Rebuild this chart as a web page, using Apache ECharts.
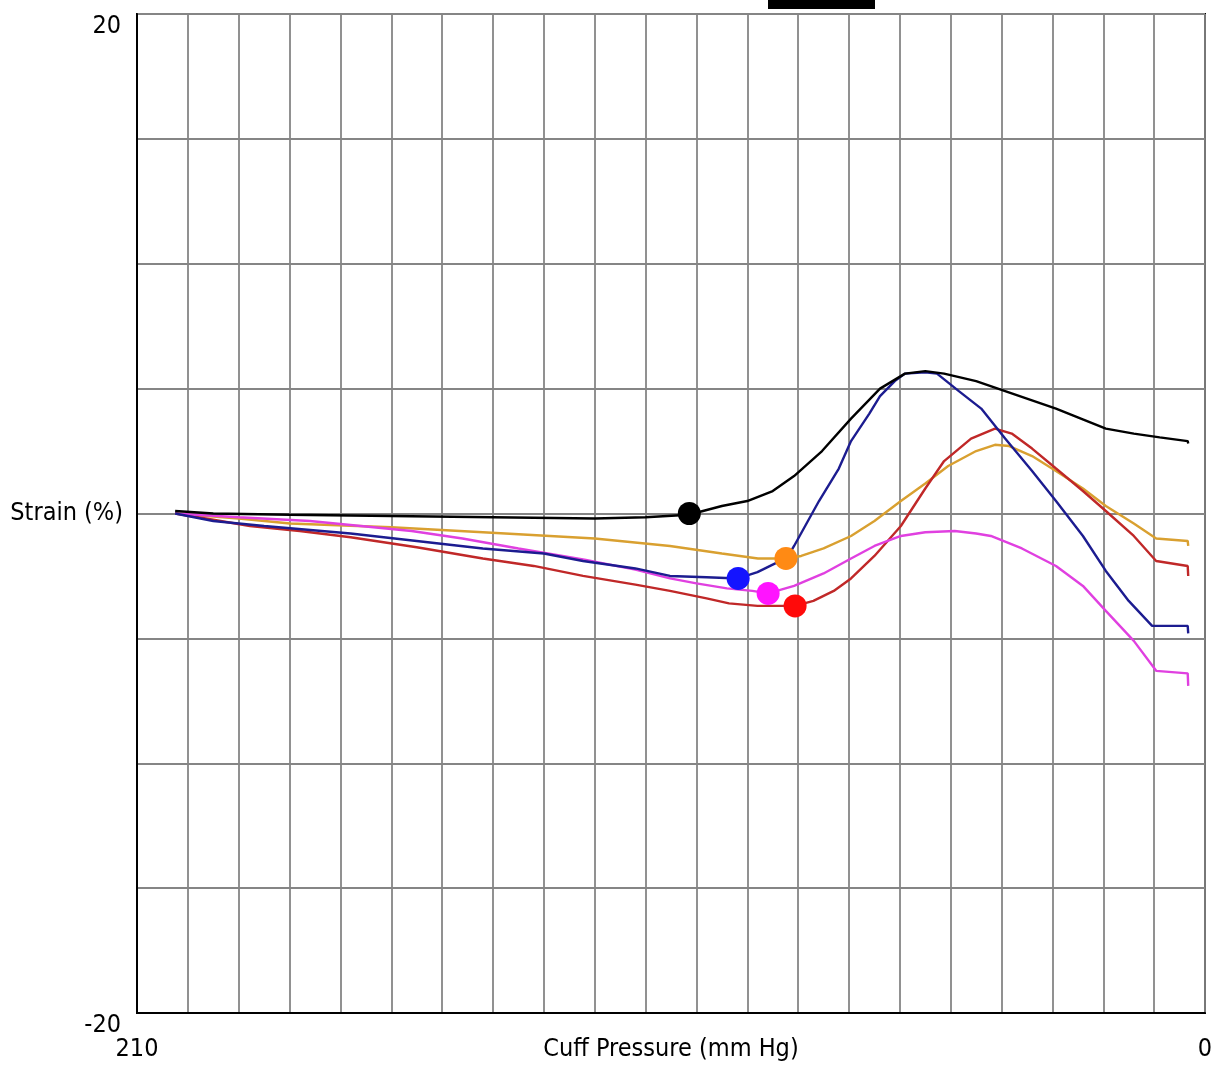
<!DOCTYPE html>
<html>
<head>
<meta charset="utf-8">
<script src="https://cdn.jsdelivr.net/npm/echarts@6/dist/echarts.min.js"></script>
<style>
html,body{margin:0;padding:0;background:#fff;}
#c{width:1215px;height:1073px;}
</style>
</head>
<body>
<div id="c"></div>
<script>
// Tick labels
const xTickLabels = [210, 0];
const yTickLabels = [20, -20];

// Series: [cuff pressure (mm Hg), strain (%)]
const blackLine = [[202.5,0.1],[195,0],[180,-0.05],[160,-0.1],[140,-0.15],[120,-0.2],[110,-0.15],[101.5,-0.05],[95,0.3],[90,0.5],[85,0.9],[80.8,1.5],[75.3,2.5],[69.6,3.8],[63.9,5.0],[59,5.6],[55,5.7],[51.3,5.6],[45,5.3],[39.3,4.9],[29.3,4.2],[19.5,3.4],[14,3.2],[8.9,3.05],[3.4,2.9],[3.3,2.8]];
const orangeLine = [[202.5,0],[190,-0.2],[179.9,-0.4],[160,-0.55],[142,-0.75],[120,-1.0],[105.2,-1.3],[95,-1.6],[87.9,-1.8],[82.4,-1.8],[79.4,-1.7],[75,-1.4],[69.6,-0.9],[65,-0.3],[59.8,0.5],[55,1.2],[50.5,1.9],[45,2.5],[41.3,2.75],[38.5,2.7],[34,2.3],[29.3,1.7],[24,1.0],[19.5,0.3],[14,-0.4],[9.6,-1.0],[3.4,-1.1],[3.3,-1.3]];
const blueLine = [[202.5,0],[195,-0.3],[185,-0.5],[168,-0.8],[155,-1.1],[142,-1.4],[130,-1.6],[122.3,-1.9],[112,-2.2],[105.2,-2.5],[98,-2.55],[91.8,-2.6],[88,-2.35],[84.5,-2.0],[82.5,-1.9],[80.8,-1.3],[75.9,0.5],[72,1.8],[69.6,2.9],[66,4.0],[63.9,4.7],[61,5.3],[59,5.6],[55,5.65],[52.7,5.6],[48.4,4.9],[44,4.2],[39.3,3.0],[34,1.7],[29.3,0.5],[24,-0.9],[19.5,-2.3],[15,-3.5],[10.4,-4.5],[3.4,-4.5],[3.3,-4.8]];
const magentaLine = [[202.5,0],[190,-0.15],[176,-0.3],[166,-0.5],[156,-0.7],[146,-1.0],[135,-1.4],[122,-1.85],[112,-2.25],[105.2,-2.6],[100,-2.8],[94,-3.0],[89,-3.1],[85.9,-3.2],[80.8,-2.9],[75,-2.4],[69.6,-1.8],[65,-1.3],[59.8,-0.9],[55,-0.75],[49.2,-0.7],[45,-0.8],[42.1,-0.9],[36,-1.4],[29.3,-2.1],[24,-2.9],[19.5,-3.9],[14,-5.1],[9.6,-6.3],[3.4,-6.4],[3.3,-6.9]];
const redLine = [[202.5,0],[195,-0.25],[187.8,-0.5],[178,-0.7],[168,-0.95],[155,-1.35],[142,-1.8],[132,-2.1],[122.3,-2.5],[112,-2.85],[105.2,-3.1],[98,-3.4],[93.6,-3.6],[88,-3.7],[80.6,-3.7],[77,-3.5],[73,-3.1],[69.6,-2.6],[65,-1.7],[59.8,-0.5],[55,1.0],[51.3,2.1],[46,3.0],[41.3,3.4],[38,3.2],[34,2.6],[29.3,1.8],[24,0.9],[19.5,0.1],[14,-0.9],[9.6,-1.9],[3.4,-2.1],[3.3,-2.5]];

// Marker points
const blackMarker = [[101.4, 0]];
const blueMarker = [[91.8, -2.6]];
const orangeMarker = [[82.4, -1.8]];
const magentaMarker = [[85.9, -3.2]];
const redMarker = [[80.6, -3.7]];

const FONT = "'Liberation Sans Narrow', 'DejaVu Sans Condensed', 'Arial Narrow', sans-serif";

function line(data, color) {
  return {type:'line', data:data, showSymbol:false, symbol:'none', lineStyle:{color:color, width:2.4}, z:3, animation:false};
}
function marker(data, color) {
  return {type:'scatter', data:data, symbol:'circle', symbolSize:23, itemStyle:{color:color, opacity:1}, z:5, animation:false};
}

const chart = echarts.init(document.getElementById('c'));
chart.setOption({
  backgroundColor:'#fff',
  animation:false,
  grid:{left:137, top:14, right:10, bottom:60, containLabel:false, outerBoundsMode:'none', show:true, borderColor:'#000', borderWidth:2},
  xAxis:{
    type:'value', inverse:true, min:0, max:210, interval:10,
    name:'Cuff Pressure (mm Hg)', nameLocation:'middle', nameGap:24, nameMoveOverlap:false,
    nameTextStyle:{color:'#000', fontSize:25, fontFamily:FONT, verticalAlign:'top'},
    axisLine:{show:true, onZero:false, lineStyle:{color:'#000', width:2}},
    axisTick:{show:false},
    splitLine:{show:true, lineStyle:{color:'#858585', width:1.8}},
    axisLabel:{
      color:'#000', fontSize:25, fontFamily:FONT, margin:24,
      formatter:function(v){ return xTickLabels.indexOf(v) >= 0 ? String(v) : ''; }
    }
  },
  yAxis:{
    type:'value', min:-20, max:20, interval:5,
    name:'Strain (%)', nameLocation:'middle', nameRotate:0, nameGap:14, nameMoveOverlap:false,
    nameTextStyle:{color:'#000', fontSize:25, fontFamily:FONT, align:'right', verticalAlign:'middle'},
    axisLine:{show:true, onZero:false, lineStyle:{color:'#000', width:2}},
    axisTick:{show:false},
    splitLine:{show:true, lineStyle:{color:'#858585', width:1.8}},
    axisLabel:{
      color:'#000', fontSize:25, fontFamily:FONT, margin:16, verticalAlign:'top',
      formatter:function(v){ return yTickLabels.indexOf(v) >= 0 ? String(v) : ''; }
    }
  },
  graphic:[{type:'rect', shape:{x:768, y:0, width:107, height:9}, style:{fill:'#000'}}],
  series:[
    line(orangeLine, '#d9a030'),
    line(redLine, '#c02828'),
    line(magentaLine, '#e040e0'),
    line(blueLine, '#1c1c90'),
    line(blackLine, '#000000'),
    marker(blackMarker, '#000000'),
    marker(blueMarker, '#1414ff'),
    marker(orangeMarker, '#ff8a14'),
    marker(magentaMarker, '#ff14ff'),
    marker(redMarker, '#ff0a0a')
  ]
});
</script>
</body>
</html>
